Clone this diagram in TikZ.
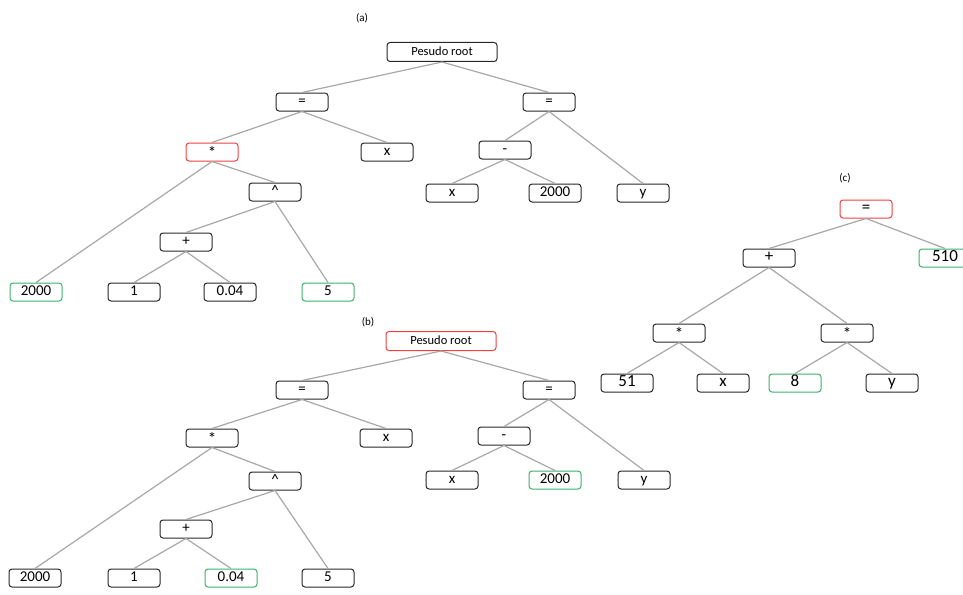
\documentclass[tikz,border=0pt]{standalone}
\usepackage{fontspec}
\setmainfont{Carlito}
\definecolor{edgegray}{RGB}{168,168,168}
\definecolor{boxline}{RGB}{40,40,40}
\definecolor{hotred}{RGB}{238,64,64}
\definecolor{okgreen}{RGB}{58,178,108}
% asterisk dropped to the middle of the box
\newcommand\opstar{\raisebox{-0.22em}{\fontsize{17}{17}\selectfont *}}
\begin{document}
\begin{tikzpicture}[x=1pt,y=-1pt,
  box/.style={draw=boxline, line width=1pt, rounded corners=3pt,
    minimum width=52pt, minimum height=18pt, inner sep=0pt,
    text height=0.68em, text depth=0.05em, font=\fontsize{15}{18}\selectfont},
  opbox/.style={box, font=\fontsize{15}{18}\selectfont},
  bigbox/.style={box, font=\fontsize{17}{20}\selectfont},
  rootbox/.style={box, minimum width=110pt, minimum height=19pt,
    font=\fontsize{12.5}{15}\selectfont},
  flag/.style={draw=hotred},
  hit/.style={draw=okgreen},
  tag/.style={font=\fontsize{11}{13}\selectfont},
  link/.style={draw=edgegray, line width=1.2pt}]
\useasboundingbox (0,0) rectangle (963,594);
\clip (0,0) rectangle (963,594);

% ---------- tree (a) ----------
\node[tag] (la) at (362,18) {(a)};
\node[rootbox] (aR) at (442,52) {Pesudo root};
\node[opbox] (aE1) at (302,102) {=};
\node[opbox] (aE2) at (549,102) {=};
\node[opbox,flag] (aM) at (212,152) {\opstar};
\node[opbox] (aX1) at (387,152) {x};
\node[opbox] (aS) at (505,150) {-};
\node[opbox] (aP) at (275,192) {\textasciicircum};
\node[box] (aX2) at (452,193) {x};
\node[box] (aN) at (555,193) {2000};
\node[box] (aY) at (643,193) {y};
\node[opbox] (aA) at (186,242) {+};
\node[box,hit] (aK) at (36,292) {2000};
\node[box] (aO) at (134,292) {1};
\node[box] (aQ) at (230,292) {0.04};
\node[box,hit] (aF) at (328,292) {5};
\foreach \p/\c in {aR/aE1, aR/aE2, aE1/aM, aE1/aX1, aE2/aS, aE2/aY,
                   aM/aK, aM/aP, aP/aA, aP/aF, aA/aO, aA/aQ, aS/aX2, aS/aN}
  \draw[link] (\p.south) -- (\c.north);

% ---------- tree (b) ----------
\node[tag] (lb) at (368,322) {(b)};
\node[rootbox,flag] (bR) at (441,341) {Pesudo root};
\node[opbox] (bE1) at (302,390) {=};
\node[opbox] (bE2) at (549,390) {=};
\node[opbox] (bM) at (212,438) {\opstar};
\node[opbox] (bX1) at (386,438) {x};
\node[opbox] (bS) at (504,436) {-};
\node[opbox] (bP) at (275,481) {\textasciicircum};
\node[box] (bX2) at (452,480) {x};
\node[box,hit] (bN) at (555,480) {2000};
\node[box] (bY) at (644,480) {y};
\node[opbox] (bA) at (186,529) {+};
\node[box] (bK) at (35,578) {2000};
\node[box] (bO) at (134,578) {1};
\node[box,hit] (bQ) at (231,578) {0.04};
\node[box] (bF) at (328,578) {5};
\foreach \p/\c in {bR/bE1, bR/bE2, bE1/bM, bE1/bX1, bE2/bS, bE2/bY,
                   bM/bK, bM/bP, bP/bA, bP/bF, bA/bO, bA/bQ, bS/bX2, bS/bN}
  \draw[link] (\p.south) -- (\c.north);

% ---------- tree (c) ----------
\node[tag] (lc) at (845,178) {(c)};
\node[bigbox,flag] (cE) at (866,209) {=};
\node[bigbox] (cA) at (769,258) {+};
\node[bigbox,hit] (cV) at (945,258) {510};
\node[bigbox] (cM1) at (679,333) {\opstar};
\node[bigbox] (cM2) at (847,333) {\opstar};
\node[bigbox] (c51) at (627,383) {51};
\node[bigbox] (cX) at (723,383) {x};
\node[bigbox,hit] (c8) at (795,383) {8};
\node[bigbox] (cY) at (892,383) {y};
\foreach \p/\c in {cE/cA, cE/cV, cA/cM1, cA/cM2, cM1/c51, cM1/cX, cM2/c8, cM2/cY}
  \draw[link] (\p.south) -- (\c.north);
\end{tikzpicture}
\end{document}
